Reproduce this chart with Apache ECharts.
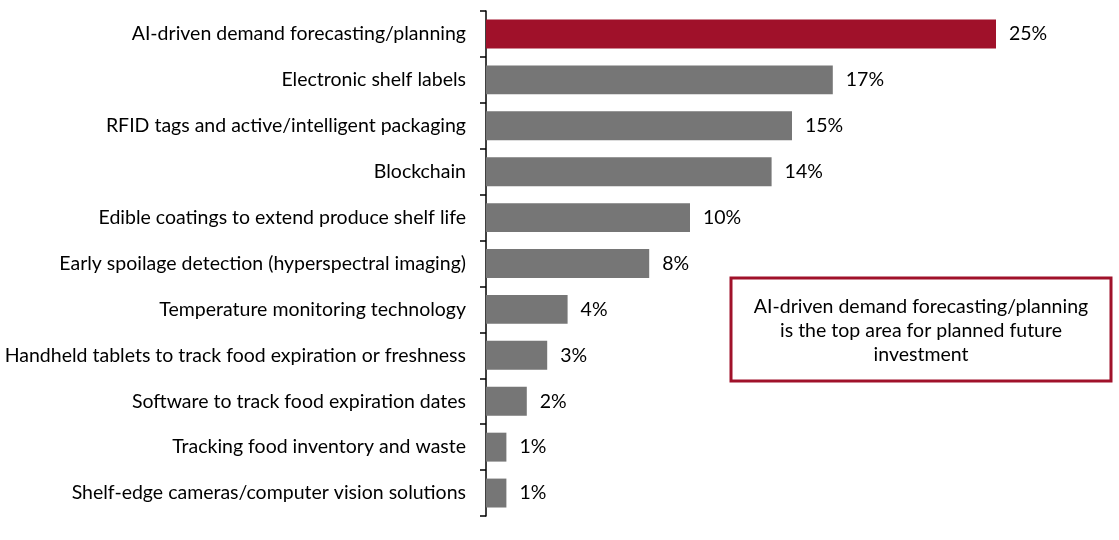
<!DOCTYPE html>
<html>
<head>
<meta charset="utf-8">
<script src="https://cdn.jsdelivr.net/npm/echarts@6/dist/echarts.min.js"></script>
<style>
  html, body { margin: 0; padding: 0; background: #fff; }
  #chart { width: 1119px; height: 540px; }
</style>
</head>
<body>
<div id="chart"></div>
<script>
// categories, top to bottom
const categories = [
  'AI-driven demand forecasting/planning',
  'Electronic shelf labels',
  'RFID tags and active/intelligent packaging',
  'Blockchain',
  'Edible coatings to extend produce shelf life',
  'Early spoilage detection (hyperspectral imaging)',
  'Temperature monitoring technology',
  'Handheld tablets to track food expiration or freshness',
  'Software to track food expiration dates',
  'Tracking food inventory and waste',
  'Shelf-edge cameras/computer vision solutions'
]
const values = [25, 17, 15, 14, 10, 8, 4, 3, 2, 1, 1]
const noteLines = [
  'AI-driven demand forecasting/planning',
  'is the top area for planned future',
  'investment'
]

const FONT = 'Lato'
const FONT_SIZE = 19.5
const RED = '#A0112A'
const GRAY = '#767676'

const chartInstance = echarts.init(document.getElementById('chart'))

const option = {
  animation: false,
  grid: {left: 486, right: 123, top: 11, bottom: 24},
  xAxis: {
    type: 'value',
    min: 0,
    max: 25,
    show: false
  },
  yAxis: {
    type: 'category',
    inverse: true,
    data: categories,
    axisLine: {show: true, lineStyle: {color: '#000', width: 1.5}},
    axisTick: {show: true, length: 6, lineStyle: {color: '#000', width: 1.5}},
    axisLabel: {
      color: '#000',
      fontSize: FONT_SIZE,
      fontFamily: FONT,
      margin: 20
    },
    splitLine: {show: false}
  },
  series: [{
    type: 'bar',
    data: values.map((v, i) => ({
      value: v,
      itemStyle: {color: i === 0 ? RED : GRAY}
    })),
    barCategoryGap: '37%',
    label: {
      show: true,
      position: 'right',
      distance: 13,
      color: '#000',
      fontSize: FONT_SIZE,
      fontFamily: FONT,
      formatter: p => p.value + '%'
    }
  }],
  graphic: [{
    type: 'rect',
    shape: {x: 731, y: 278, width: 380, height: 103},
    style: {fill: '#fff', stroke: RED, lineWidth: 3}
  }, {
    type: 'text',
    x: 921,
    y: 331,
    style: {
      text: noteLines.join('\n'),
      align: 'center',
      verticalAlign: 'middle',
      fontSize: FONT_SIZE,
      fontFamily: FONT,
      lineHeight: 24,
      fill: '#000'
    }
  }]
}

chartInstance.setOption(option)
</script>
</body>
</html>
